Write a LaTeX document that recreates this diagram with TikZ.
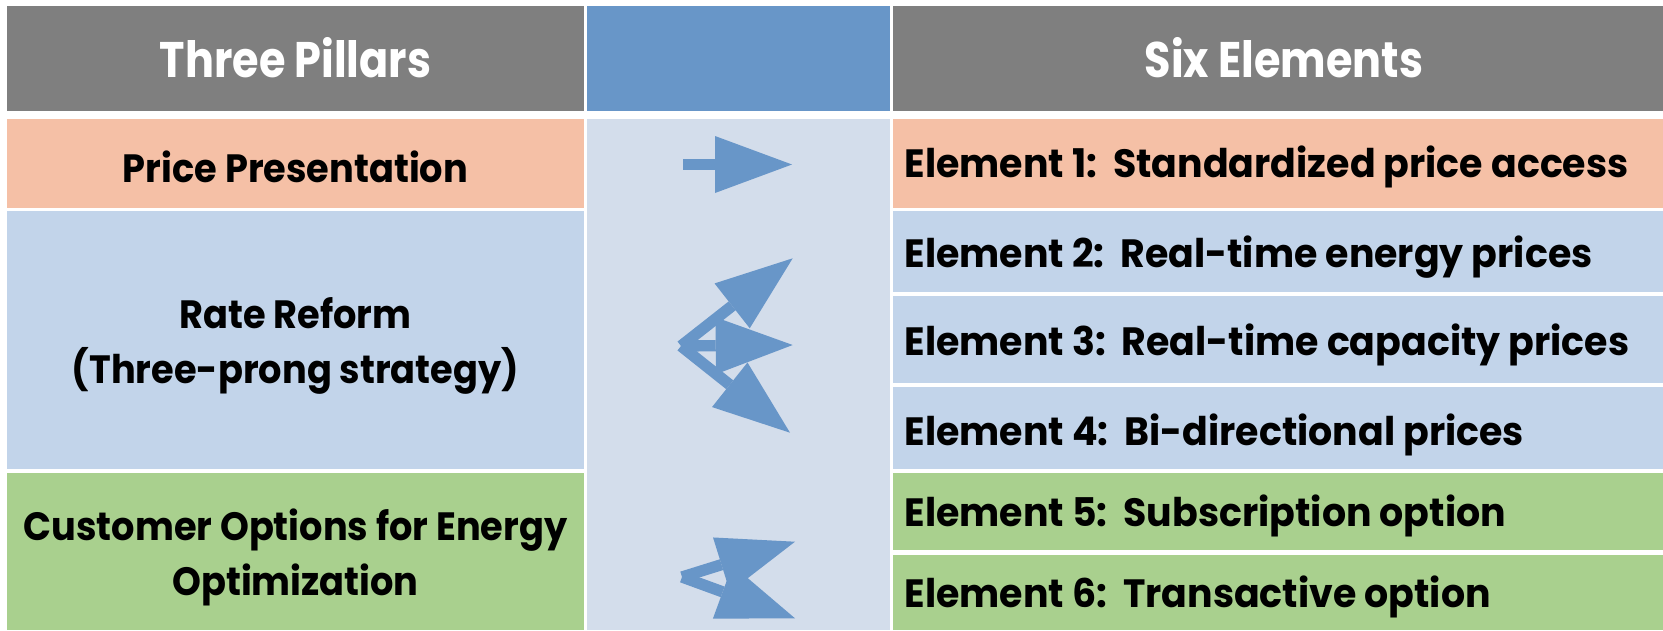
\documentclass[tikz,border=0pt]{standalone}
\usepackage{fontspec}
\setmainfont{Poppins}
\newfontfamily\hdrfont{Poppins}[FakeStretch=0.86]
\newfontfamily\leftfont{Poppins}[FakeStretch=0.93]
\newfontfamily\rightfont{Poppins}[FakeStretch=0.96]
\usetikzlibrary{arrows.meta}
\definecolor{hdrgray}{RGB}{127,127,127}
\definecolor{hdrblue}{RGB}{104,150,200}
\definecolor{midbg}{RGB}{211,221,235}
\definecolor{salmon}{RGB}{245,192,166}
\definecolor{ltblue}{RGB}{194,212,234}
\definecolor{ltgreen}{RGB}{169,208,142}
\tikzset{
  cell/.style={draw=none, inner sep=0pt, outer sep=0pt, anchor=north west},
  hdrtext/.style={text=white, font=\hdrfont\fontsize{50}{55}\selectfont\bfseries},
  lefttext/.style={text=black, align=center, font=\leftfont\fontsize{39.5}{55}\selectfont\bfseries},
  righttext/.style={text=black, align=left, font=\rightfont\fontsize{39.5}{55}\selectfont\bfseries},
  bigarrow/.style={draw=hdrblue, line width=11.3pt,
    -{Triangle[length=77pt,width=57pt,line width=0pt]}}
}
\begin{document}
\begin{tikzpicture}[x=1pt,y=-1pt]
\useasboundingbox (0,0) rectangle (1663,630);
\fill[white] (0,0) rectangle (1663,630);
% header
\node[cell, fill=hdrgray, minimum width=577pt, minimum height=105pt] (hL) at (7,6) {};
\node[cell, fill=hdrblue, minimum width=303pt, minimum height=105pt] (hM) at (587,6) {};
\node[cell, fill=hdrgray, minimum width=770pt, minimum height=105pt] (hR) at (893,6) {};
\node[hdrtext] (tL) at (295.5,58) {Three Pillars};
\node[hdrtext] (tR) at (1284,58) {Six Elements};
% middle body
\node[cell, fill=midbg, minimum width=303pt, minimum height=511pt] (mid) at (587,119) {};
% left column
\node[cell, fill=salmon, minimum width=577pt, minimum height=89pt] (p1) at (7,119) {};
\node[cell, fill=ltblue, minimum width=577pt, minimum height=258pt] (p2) at (7,211) {};
\node[cell, fill=ltgreen, minimum width=577pt, minimum height=157pt] (p3) at (7,473) {};
\node[lefttext] (p1t) at (295.5,166.5) {Price Presentation};
\node[lefttext] (p2t) at (295.5,346) {Rate Reform\\(Three-prong strategy)};
\node[lefttext] (p3t) at (295.5,557) {Customer Options for Energy\\Optimization};
% right column
\node[cell, fill=salmon, minimum width=770pt, minimum height=89pt] (e1) at (893,119) {};
\node[cell, fill=ltblue, minimum width=770pt, minimum height=81pt] (e2) at (893,211) {};
\node[cell, fill=ltblue, minimum width=770pt, minimum height=87pt] (e3) at (893,296) {};
\node[cell, fill=ltblue, minimum width=770pt, minimum height=82pt] (e4) at (893,387) {};
\node[cell, fill=ltgreen, minimum width=770pt, minimum height=77pt] (e5) at (893,473) {};
\node[cell, fill=ltgreen, minimum width=770pt, minimum height=75pt] (e6) at (893,555) {};
\node[righttext, anchor=west] (e1t) at (901,167) {Element 1:\ \ Standardized price access};
\node[righttext, anchor=west] (e2t) at (901,257) {Element 2:\ \ Real-time energy prices};
\node[righttext, anchor=west] (e3t) at (901,345) {Element 3:\ \ Real-time capacity prices};
\node[righttext, anchor=west] (e4t) at (901,434.5) {Element 4:\ \ Bi-directional prices};
\node[righttext, anchor=west] (e5t) at (901,516) {Element 5:\ \ Subscription option};
\node[righttext, anchor=west] (e6t) at (901,597) {Element 6:\ \ Transactive option};
% arrows
\coordinate (a1s) at (683,164.5);
\coordinate (a1e) at (792,164.5);
\coordinate (a2s) at (681,346);
\coordinate (a2u) at (792.7,258.3);
\coordinate (a2m) at (792.7,345);
\coordinate (a2d) at (790,432.7);
\coordinate (a3s) at (682,577);
\coordinate (a3u) at (795,541.7);
\coordinate (a3d) at (795,618.3);
\draw[bigarrow] (a1s) -- (a1e);
\draw[bigarrow] (a2s) -- (a2u);
\draw[bigarrow] (a2s) -- (a2m);
\draw[bigarrow] (a2s) -- (a2d);
\draw[bigarrow] (a3s) -- (a3u);
\draw[bigarrow] (a3s) -- (a3d);
\end{tikzpicture}
\end{document}
